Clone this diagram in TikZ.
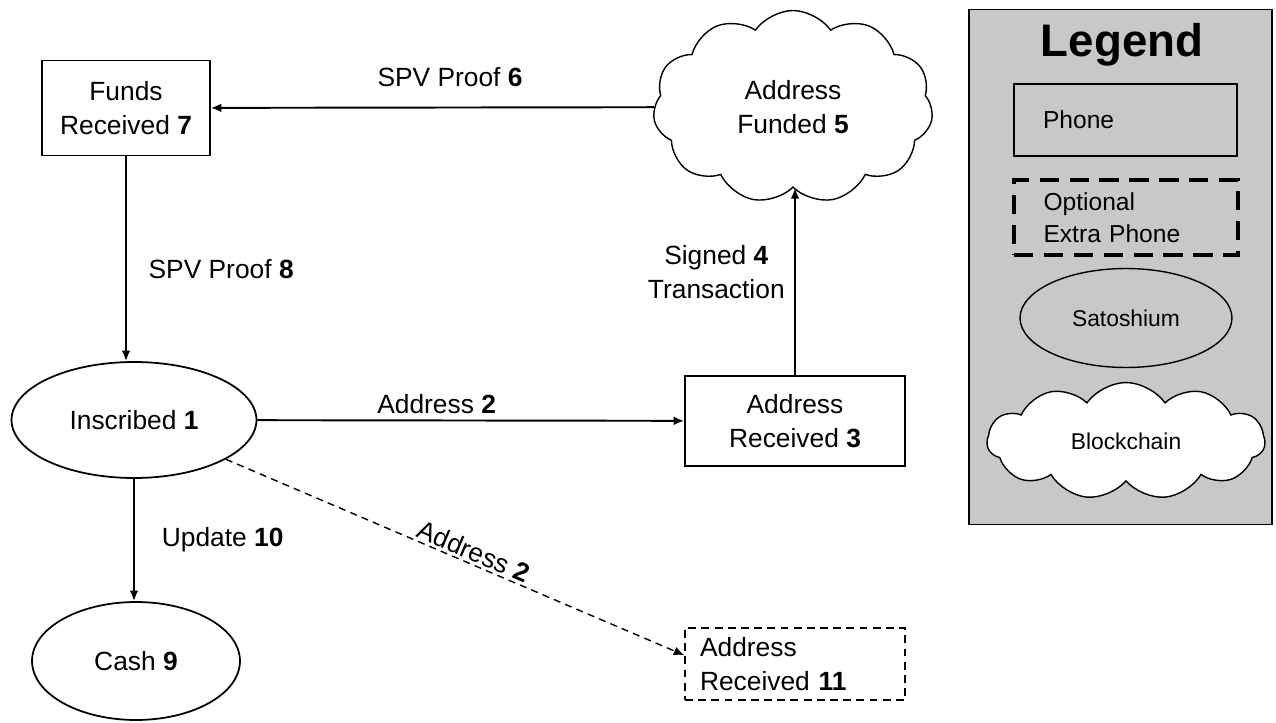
\documentclass[tikz,border=0pt]{standalone}
\usepackage{fontspec}
\setmainfont{Liberation Sans}
\usetikzlibrary{arrows.meta, positioning, shapes.geometric, shapes.symbols}
\definecolor{legendgray}{RGB}{200,200,200}
\tikzset{>={Latex[length=6pt,width=5pt]},
  every node/.style={font=\fontsize{15}{19}\selectfont},
  phone/.style={draw, line width=1pt, align=center, inner sep=0pt},
  extraphone/.style={draw, line width=0.8pt, dash pattern=on 4.5pt off 3pt, align=left, inner sep=0pt},
  satoshium/.style={ellipse, draw, line width=1pt, inner sep=0pt},
  blockchain/.style={cloud, draw, line width=0.8pt, cloud puffs=11, cloud puff arc=110, cloud ignores aspect, fill=white, align=center},
  msg/.style={->, line width=1.1pt},
  optmsg/.style={->, line width=0.8pt, dash pattern=on 4pt off 3pt}}

\begin{document}
\begin{tikzpicture}[x=0.02cm, y=-0.02cm]
\useasboundingbox (0,0) rectangle (1276,723);
% legend
\node[draw, line width=1pt, fill=legendgray, minimum width=6.06cm, minimum height=10.3cm] (legend) at (1120.5,267) {};
\node[font=\fontsize{26}{30}\selectfont\bfseries] (legtitle) at (1122,45) {Legend};
\node[phone, minimum width=4.46cm, minimum height=1.44cm, text width=3.3cm, align=left, font=\fontsize{14}{18.5}\selectfont] (legphone) at (1125.5,120) {Phone};
\node[draw, line width=2.2pt, dash pattern=on 11pt off 6pt, inner sep=0pt, minimum width=4.48cm, minimum height=1.5cm, text width=3.3cm, align=left, font=\fontsize{14}{18.5}\selectfont] (legextra) at (1126,217.5) {Optional\\Extra Phone};
\node[satoshium, line width=0.8pt, minimum width=4.24cm, minimum height=1.98cm, font=\fontsize{13}{16}\selectfont] (legsat) at (1126,318) {Satoshium};
\node[blockchain, minimum width=5.56cm, minimum height=2.34cm, font=\fontsize{13}{16}\selectfont] (legchain) at (1126,441) {Blockchain};

% states
\node[phone, minimum width=3.36cm, minimum height=1.9cm] (funds) at (126,108) {Funds\\Received \textbf{7}};
\node[blockchain, minimum width=5.6cm, minimum height=3.86cm] (funded) at (793,107) {Address\\Funded \textbf{5}};
\node[phone, minimum width=4.4cm, minimum height=1.8cm] (adrA) at (795,421) {Address\\Received \textbf{3}};
\node[satoshium, minimum width=4.9cm, minimum height=2.32cm] (insc) at (134,420) {Inscribed \textbf{1}};
\node[satoshium, minimum width=4.16cm, minimum height=2.36cm] (cash) at (136,661) {Cash \textbf{9}};
\node[extraphone, minimum width=4.4cm, minimum height=1.44cm, text width=3.8cm] (adrB) at (795,664) {Address\\Received \textbf{11}};

% messages
\draw[msg] (funded) -- node[above=8pt, pos=0.46] {SPV Proof \textbf{6}} (funds);
\draw[msg] (funds.south) -- node[right=9pt, pos=0.55] {SPV Proof \textbf{8}} (funds.south |- insc.north);
\draw[msg] (adrA.north) -- node[left=2pt, pos=0.55, align=center] {Signed \textbf{4}\\Transaction} (adrA.north |- funded.south);
\draw[msg] (insc) -- node[above, pos=0.42] {Address \textbf{2}} (adrA);
\draw[msg] (insc.south) -- node[right=12pt] {Update \textbf{10}} (insc.south |- cash.north);
\draw[optmsg] (insc) -- node[sloped, above=-2pt, pos=0.53] {Address \textbf{2}} ([yshift=5pt]adrB.west);
\end{tikzpicture}
\end{document}
